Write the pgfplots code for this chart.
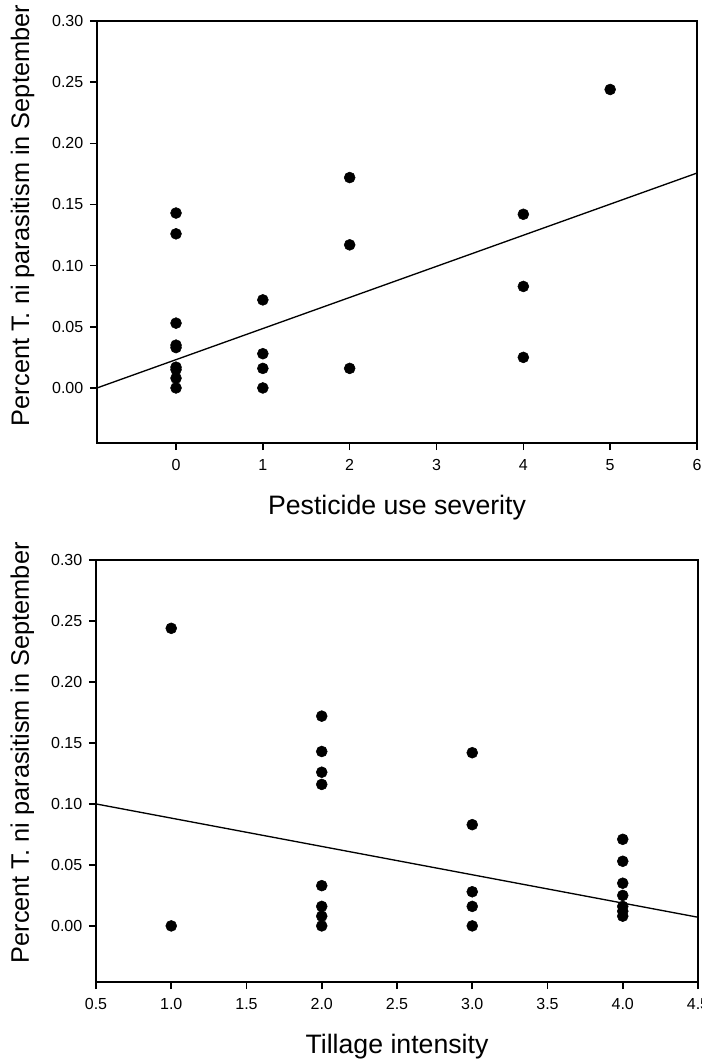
\documentclass[border=0pt]{standalone}
\usepackage{pgfplots}
\pgfplotsset{compat=1.18}
\usepackage{fontspec}
\setmainfont{Liberation Sans}
\pgfplotstableread{
x y
0 0.143
0 0.126
0 0.053
0 0.035
0 0.033
0 0.017
0 0.015
0 0.008
0 0.000
1 0.072
1 0.028
1 0.016
1 0.000
2 0.172
2 0.117
2 0.016
4 0.142
4 0.083
4 0.025
5 0.244
}\pestdata
\pgfplotstableread{
x y
1 0.244
1 0.000
2 0.172
2 0.143
2 0.126
2 0.116
2 0.033
2 0.016
2 0.008
2 0.000
3 0.142
3 0.083
3 0.028
3 0.016
3 0.000
4 0.071
4 0.053
4 0.035
4 0.025
4 0.016
4 0.012
4 0.008
}\tilldata
\pgfplotsset{
  myaxis/.style={
    scale only axis,
    axis line style={line width=1.2pt},
    every tick/.style={line width=1.2pt,black},
    tick align=outside,
    major tick length=5.25pt,
    xtick pos=bottom, ytick pos=left,
    tick label style={font=\fontsize{12}{14}\selectfont},
    /pgf/number format/assume math mode=true,
    ymin=-0.045, ymax=0.30,
    ytick={0,0.05,...,0.30},
    yticklabel style={xshift=-1.5pt,/pgf/number format/.cd,fixed,fixed zerofill,precision=2},
    xticklabel style={yshift=-3.5pt},
    label style={font=\fontsize{20}{24}\selectfont},
    xlabel style={at={(axis description cs:0.5,0)}, anchor=base, yshift=-53.25pt},
    ylabel style={font=\fontsize{19}{23}\selectfont, anchor=base, rotate=0},
  }
}
\begin{document}
\begin{tikzpicture}
\useasboundingbox (-72.75pt,15.75pt) rectangle (453.75pt,-778.5pt);
\begin{axis}[myaxis,
  at={(0pt,0pt)}, anchor=north west,
  width=450pt, height=316.5pt,
  xmin=-0.91, xmax=6,
  xtick={0,1,...,6},
  xlabel={Pesticide use severity},
  ylabel={Percent T. ni parasitism in September},
  ylabel style={at={(axis description cs:-0.1130,0.539)}},
]
\addplot[only marks, mark=*, mark size=4.1pt, black] table[x=x,y=y] {\pestdata};
\addplot[black, line width=1pt] coordinates {(-0.91,0.000) (6,0.1757)};
\end{axis}
\begin{axis}[myaxis,
  at={(-0.75pt,-404.25pt)}, anchor=north west,
  width=451.5pt, height=316.5pt,
  xmin=0.5, xmax=4.5, ymin=-0.046,
  xtick={0.5,1.0,...,4.5},
  xticklabel style={/pgf/number format/.cd,fixed,fixed zerofill,precision=1},
  xlabel={Tillage intensity},
  ylabel={Percent T. ni parasitism in September},
  ylabel style={at={(axis description cs:-0.1115,0.543)}},
]
\addplot[only marks, mark=*, mark size=4.1pt, black] table[x=x,y=y] {\tilldata};
\addplot[black, line width=1pt] coordinates {(0.5,0.100) (4.5,0.0071)};
\end{axis}
\end{tikzpicture}
\end{document}
